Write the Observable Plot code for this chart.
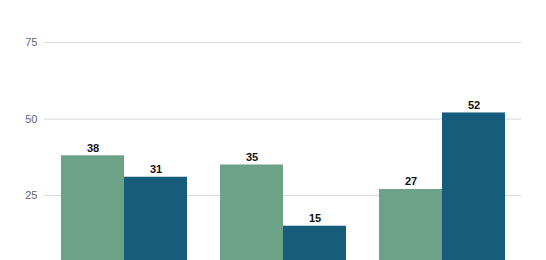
<!DOCTYPE html>
<html>
<head>
<meta charset="utf-8">
<script src="https://cdn.jsdelivr.net/npm/d3@7"></script>
<script src="https://cdn.jsdelivr.net/npm/@observablehq/plot@0.6"></script>
<style>
html, body { margin: 0; padding: 0; background: #fff; }
</style>
</head>
<body>
<div id="chart"></div>
<script>
const groups = ["A", "B", "C"];
const series = ["Series 1", "Series 2"];
const series1 = [38, 35, 27];
const series2 = [31, 15, 52];
const yTicks = [25, 50, 75];
const colors = ["#6ca287", "#175c7a"];

const data = [];
groups.forEach((g, i) => {
  data.push({group: g, series: series[0], value: series1[i]});
  data.push({group: g, series: series[1], value: series2[i]});
});

const chart = Plot.plot({
  width: 546,
  height: 260,
  marginLeft: 43,
  marginRight: 24,
  marginTop: 20,
  marginBottom: 0,
  style: {fontFamily: "Liberation Sans, Arial, sans-serif", background: "#fff"},
  fx: {domain: groups, padding: 0, axis: null},
  x: {domain: series, paddingInner: 0, paddingOuter: 0.25, axis: null},
  y: {domain: [3.8, 82.2], ticks: yTicks, axis: null},
  color: {domain: series, range: colors},
  marks: [
    Plot.gridY(yTicks, {stroke: "#d9d9d9", strokeOpacity: 1}),
    Plot.axisY(yTicks, {tickSize: 0, tickPadding: 7, fill: "#666", fontSize: 11, label: null}),
    Plot.barY(data, {fx: "group", x: "series", y1: 0, y2: "value", fill: "series", clip: true, inset: 0}),
    Plot.text(data, {fx: "group", x: "series", y: "value", text: d => String(d.value), lineAnchor: "bottom", dy: -4, fontWeight: "bold", fontSize: 11, fill: "#111"})
  ]
});
document.getElementById("chart").appendChild(chart);
</script>
</body>
</html>
